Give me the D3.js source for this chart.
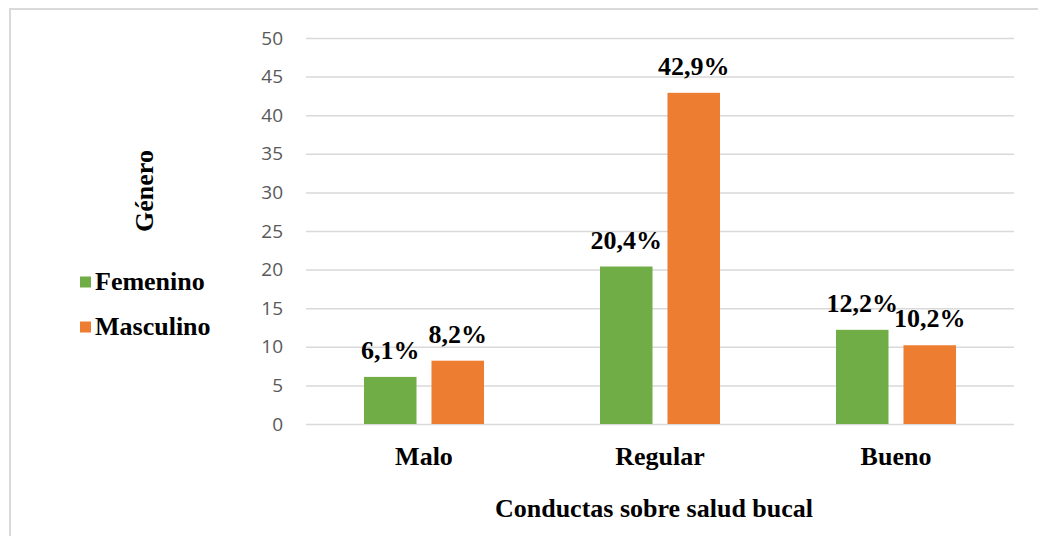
<!DOCTYPE html>
<html>
<head>
<meta charset="utf-8">
<script src="https://cdn.jsdelivr.net/npm/d3@7"></script>
<style>
  body { margin: 0; background: #fff; }
  svg { display: block; }
  .tick text { font-family: "Open Sans", sans-serif; font-size: 19px; fill: #595959; }
  .lbl { font-family: "Liberation Serif", "Times New Roman", serif; font-weight: bold; font-size: 26px; fill: #000; }
</style>
</head>
<body>
<div id="chart"></div>
<script>
// chart data
const categories = ["Malo", "Regular", "Bueno"];
const seriesNames = ["Femenino", "Masculino"];
const femenino = [6.1, 20.4, 12.2];
const masculino = [8.2, 42.9, 10.2];
const yTicks = [0, 5, 10, 15, 20, 25, 30, 35, 40, 45, 50];
const colors = ["#70ad47", "#ed7d31"];

const W = 1038, H = 536;
const margin = {top: 38, right: 24, bottom: 112, left: 306};
const width = W - margin.left - margin.right,
    height = H - margin.top - margin.bottom;

const svg = d3.select("#chart")
    .append("svg")
    .attr("width", W)
    .attr("height", H);

// outer frame (right and bottom edges run off the picture)
svg.append("rect")
    .attr("x", 10).attr("y", 9)
    .attr("width", W + 20).attr("height", H + 20)
    .attr("fill", "#fff")
    .attr("stroke", "#d9d9d9")
    .attr("stroke-width", 2);

const g = svg.append("g")
    .attr("transform", "translate(" + margin.left + "," + margin.top + ")");

const y = d3.scaleLinear().domain([0, 50]).range([height, 0]);
const x0 = d3.scaleBand().domain(categories).range([0, 708]).padding(0);
const x1 = d3.scaleBand().domain(seriesNames)
    .range([58, x0.bandwidth() - 58])
    .paddingInner(0.222);

// gridlines + tick labels
const yAxis = g.append("g")
    .call(d3.axisLeft(y).tickValues(yTicks).tickSize(-708).tickPadding(23).tickFormat(d3.format("d")));
yAxis.select(".domain").remove();
yAxis.selectAll(".tick line").attr("stroke", "#d9d9d9").attr("stroke-width", 1.5);

const rows = categories.map((c, i) => ({cat: c, values: [femenino[i], masculino[i]]}));

const groups = g.selectAll(".grp")
    .data(rows)
    .enter()
    .append("g")
    .attr("class", "grp")
    .attr("transform", d => "translate(" + x0(d.cat) + ",0)");

groups.selectAll("rect")
    .data(d => d.values.map((v, j) => ({name: seriesNames[j], v: v, j: j})))
    .enter()
    .append("rect")
    .attr("x", d => x1(d.name))
    .attr("y", d => y(d.v))
    .attr("width", x1.bandwidth())
    .attr("height", d => height - y(d.v))
    .attr("fill", d => colors[d.j]);

groups.selectAll(".val")
    .data(d => d.values.map((v, j) => ({name: seriesNames[j], v: v})))
    .enter()
    .append("text")
    .attr("class", "lbl")
    .attr("text-anchor", "middle")
    .attr("x", d => x1(d.name) + x1.bandwidth() / 2)
    .attr("y", d => y(d.v) - 18)
    .text(d => d.v.toFixed(1).replace(".", ",") + "%");

// category labels
g.selectAll(".cat")
    .data(categories)
    .enter()
    .append("text")
    .attr("class", "lbl")
    .attr("text-anchor", "middle")
    .attr("x", d => x0(d) + x0.bandwidth() / 2)
    .attr("y", height + 41)
    .text(d => d);

// axis title
svg.append("text")
    .attr("class", "lbl")
    .attr("text-anchor", "middle")
    .attr("x", 654)
    .attr("y", 517)
    .text("Conductas sobre salud bucal");

// legend title (rotated)
svg.append("text")
    .attr("class", "lbl")
    .attr("text-anchor", "middle")
    .attr("transform", "translate(153,191) rotate(-90)")
    .text("Género");

// legend
const legend = svg.selectAll(".leg")
    .data(seriesNames)
    .enter()
    .append("g")
    .attr("transform", (d, i) => "translate(80," + (282 + i * 45) + ")");
legend.append("rect")
    .attr("x", 0).attr("y", -5.5)
    .attr("width", 11).attr("height", 11)
    .attr("fill", (d, i) => colors[i]);
legend.append("text")
    .attr("class", "lbl")
    .attr("x", 15)
    .attr("y", 8)
    .text(d => d);
</script>
</body>
</html>
